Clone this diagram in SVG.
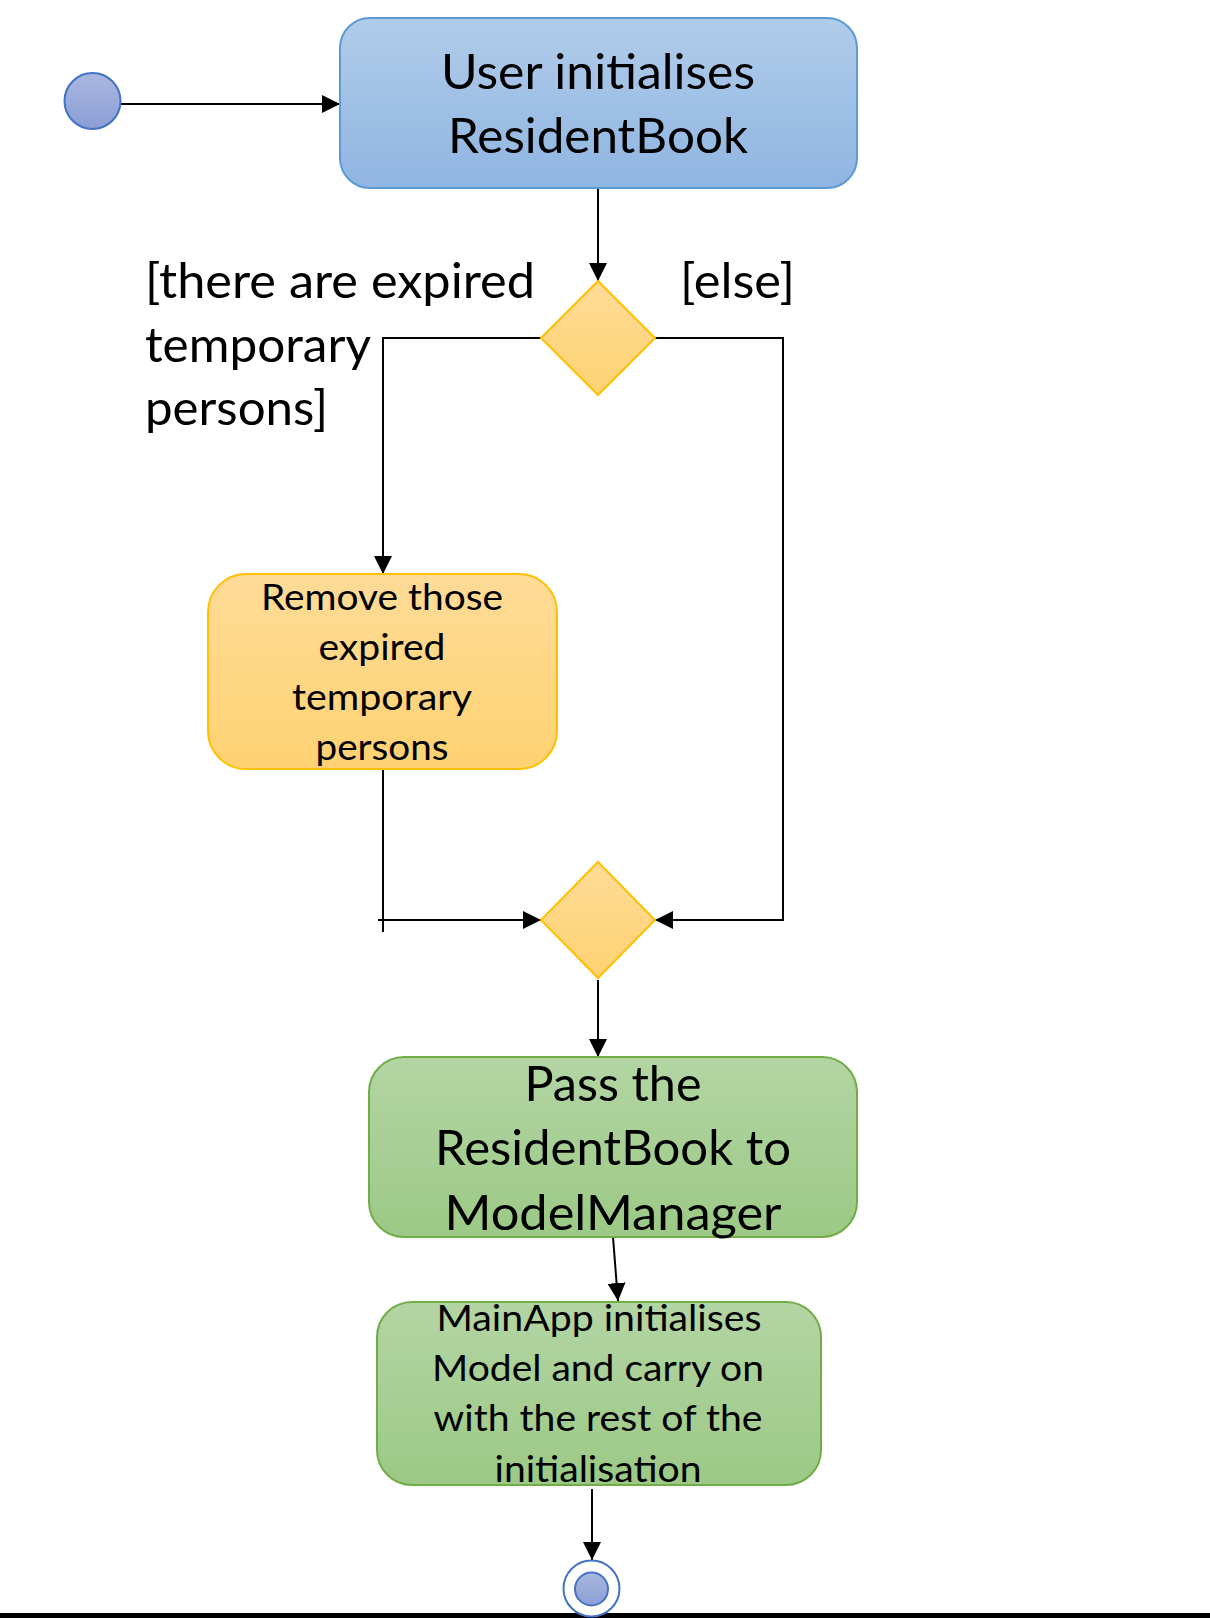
<svg xmlns="http://www.w3.org/2000/svg" width="1210" height="1618" viewBox="0 0 1210 1618">
<style>
text{font-family:Lato,"Open Sans","Liberation Sans",sans-serif;fill:#000;}
.big{font-size:48px;}
.small{font-size:37px;}
.mid{text-anchor:middle;}
.conn{fill:none;stroke:#000;stroke-width:2;}
.blue{fill:url(#gBlue);stroke:#5b9bd5;stroke-width:2;}
.orange{fill:url(#gOrange);stroke:#ffc000;stroke-width:2;}
.green{fill:url(#gGreen);stroke:#70ad47;stroke-width:2;}
.dot{fill:url(#gDot);stroke:#4472c4;stroke-width:2;}
</style>
<defs>
<linearGradient id="gBlue" x1="0" y1="0" x2="0" y2="1"><stop offset="0" stop-color="#b1cce9"/><stop offset="1" stop-color="#8fb5e2"/></linearGradient>
<linearGradient id="gOrange" x1="0" y1="0" x2="0" y2="1"><stop offset="0" stop-color="#ffdb97"/><stop offset="1" stop-color="#fed272"/></linearGradient>
<linearGradient id="gGreen" x1="0" y1="0" x2="0" y2="1"><stop offset="0" stop-color="#b3d5a4"/><stop offset="1" stop-color="#9cc985"/></linearGradient>
<linearGradient id="gDot" x1="0" y1="0" x2="0" y2="1"><stop offset="0" stop-color="#a9b6df"/><stop offset="1" stop-color="#8b9fd6"/></linearGradient>
<marker id="arr" markerWidth="18" markerHeight="18" refX="18" refY="9" orient="auto" markerUnits="userSpaceOnUse" viewBox="0 0 18 18"><path d="M0,0 L18,9 L0,18 z" fill="#000"/></marker>
</defs>
<rect x="0" y="1613" width="1210" height="5" fill="#000"/>
<g id="connectors">
<path class="conn" d="M121,104 H340" marker-end="url(#arr)"/>
<path class="conn" d="M598,188 V281" marker-end="url(#arr)"/>
<path class="conn" d="M541,338 H383 V574" marker-end="url(#arr)"/>
<path class="conn" d="M655,338 H783 V920 H655" marker-end="url(#arr)"/>
<path class="conn" d="M383,769 V932"/>
<path class="conn" d="M378,920 H541" marker-end="url(#arr)"/>
<path class="conn" d="M598,980 V1057" marker-end="url(#arr)"/>
<path class="conn" d="M613,1237 L618,1301" marker-end="url(#arr)"/>
<path class="conn" d="M592,1489 V1560" marker-end="url(#arr)"/>
</g>
<g id="start">
<circle class="dot" cx="92.5" cy="101" r="28"/>
</g>
<g id="init">
<rect class="blue" x="340" y="18" width="517" height="170" rx="30"/>
<text class="big mid" x="598" y="89" textLength="314" lengthAdjust="spacingAndGlyphs">User initialises</text>
<text class="big mid" x="598" y="153" textLength="300" lengthAdjust="spacingAndGlyphs">ResidentBook</text>
</g>
<g id="decision1">
<polygon class="orange" points="598,281 655,338 598,395 541,338"/>
</g>
<g id="guard-expired">
<text class="big" x="145" y="298" textLength="390" lengthAdjust="spacingAndGlyphs">[there are expired</text>
<text class="big" x="145" y="362" textLength="226" lengthAdjust="spacingAndGlyphs">temporary</text>
<text class="big" x="145" y="425" textLength="183" lengthAdjust="spacingAndGlyphs">persons]</text>
</g>
<g id="guard-else">
<text class="big" x="680" y="298" textLength="115" lengthAdjust="spacingAndGlyphs">[else]</text>
</g>
<g id="remove">
<rect class="orange" x="208" y="574" width="349" height="195" rx="38"/>
<text class="small mid" x="382" y="610" textLength="242" lengthAdjust="spacingAndGlyphs">Remove those</text>
<text class="small mid" x="382" y="660" textLength="127" lengthAdjust="spacingAndGlyphs">expired</text>
<text class="small mid" x="382" y="710" textLength="180" lengthAdjust="spacingAndGlyphs">temporary</text>
<text class="small mid" x="382" y="760" textLength="133" lengthAdjust="spacingAndGlyphs">persons</text>
</g>
<g id="decision2">
<polygon class="orange" points="598,862 655,920 598,978 541,920"/>
</g>
<g id="pass">
<rect class="green" x="369" y="1057" width="488" height="180" rx="35"/>
<text class="big mid" x="613" y="1101" textLength="177" lengthAdjust="spacingAndGlyphs">Pass the</text>
<text class="big mid" x="613" y="1165" textLength="356" lengthAdjust="spacingAndGlyphs">ResidentBook to</text>
<text class="big mid" x="613" y="1230" textLength="337" lengthAdjust="spacingAndGlyphs">ModelManager</text>
</g>
<g id="mainapp">
<rect class="green" x="377" y="1302" width="444" height="183" rx="35"/>
<text class="small mid" x="599" y="1331" textLength="325" lengthAdjust="spacingAndGlyphs">MainApp initialises</text>
<text class="small mid" x="598" y="1381" textLength="332" lengthAdjust="spacingAndGlyphs">Model and carry on</text>
<text class="small mid" x="598" y="1431" textLength="329" lengthAdjust="spacingAndGlyphs">with the rest of the</text>
<text class="small mid" x="598" y="1482" textLength="207" lengthAdjust="spacingAndGlyphs">initialisation</text>
</g>
<g id="end">
<circle cx="591.5" cy="1588.5" r="28" fill="#fff" stroke="#4472c4" stroke-width="2"/>
<circle class="dot" cx="591.5" cy="1589" r="16.5"/>
</g>
</svg>
